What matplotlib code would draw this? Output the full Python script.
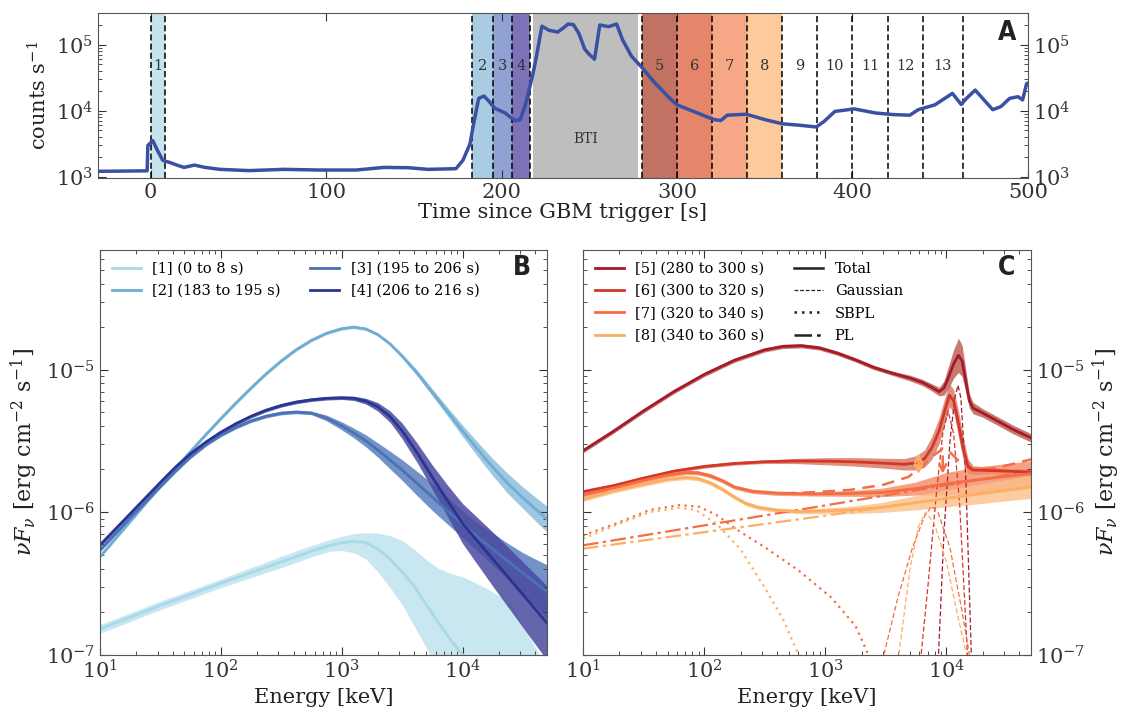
import numpy as np
import matplotlib.pyplot as plt

plt.rcParams['font.family'] = ['DejaVu Serif']
plt.rcParams['mathtext.fontset'] = 'dejavuserif'

# ---- panel A: light curve ----
lc_t = [-30, -2, -1.6, 1.2, 3.9, 6.9, 11, 15, 19, 25, 31, 39.5, 56, 76, 96.5, 117, 133, 147, 158, 174,
        178, 182, 184, 187, 190, 193, 196, 202, 207.6, 210.6, 213.6, 217.7, 219.6, 223, 227, 232, 235,
        238, 241, 244, 247.5, 250, 253, 256, 261, 265.6, 269, 274, 280, 287, 295, 300, 309, 321, 325,
        328.6, 339.5, 350, 360, 369.7, 379.4, 384, 390, 401, 413, 423, 432.7, 437.5, 447, 457, 462,
        465, 470, 475, 480, 484.7, 489.6, 494.4, 497, 499.3, 500]
lc_c = [1200, 1220, 2950, 3500, 2480, 1760, 1630, 1490, 1375, 1490, 1375, 1285, 1230, 1285, 1255, 1255,
        1375, 1360, 1285, 1315, 1760, 3120, 6150, 15300, 16600, 13700, 10900, 9200, 7060, 7250, 12200,
        34000, 60000, 190000, 165000, 155000, 177000, 205000, 200000, 149000, 84500, 71000, 60000,
        198000, 187000, 205000, 118000, 67000, 45000, 27000, 16200, 12200, 9800, 7300, 7060, 8500,
        8800, 7300, 6300, 6000, 5640, 6900, 9700, 10600, 9200, 8700, 8500, 10300, 12200, 18200, 12400,
        15300, 20400, 14500, 10300, 11500, 15300, 16200, 14500, 25600, 26000]

spans = [(0, 8), (183, 195), (195, 206), (206, 216), (218, 278), (280, 300), (300, 320), (320, 340), (340, 360)]
span_colors = ['#c6e4ee', '#a9cce3', '#8fa2d3', '#7b72b7', '#bebebf', '#c27262', '#e5866a', '#f5a786', '#fdcb9b']
dash_t = [0, 8, 183, 195, 206, 216, 280, 300, 320, 340, 360, 380, 400, 420, 440, 463]
int_labels = ['1', '2', '3', '4', '5', '6', '7', '8', '9', '10', '11', '12', '13']
int_label_t = [4, 189, 200.5, 211, 290, 310, 330, 350, 370, 390, 410, 430, 451.5]
int_label_c = 48000
bti_t, bti_c = 248, 3700

# ---- panel B: spectra 1-4 (log10 E [keV], log10 nuFnu) ----
b_names = ['[1] (0 to 8 s)', '[2] (183 to 195 s)', '[3] (195 to 206 s)', '[4] (206 to 216 s)']
b_colors = ['#a9d9e8', '#6eaed5', '#4a72b6', '#2b3590']
b_fill = ['#bfe3ee', '#8dbddc', '#5b7fbd', '#4a4aa0']

b1_logE = [1.0, 1.25, 1.5, 1.75, 2.0, 2.25, 2.5, 2.75, 2.9, 3.0, 3.1, 3.2, 3.3, 3.4, 3.5, 3.6, 3.7, 3.8, 3.9, 4.0, 4.2, 4.4, 4.7]
b1_mid = [-6.82, -6.738, -6.655, -6.578, -6.50, -6.425, -6.35, -6.275, -6.235, -6.215, -6.207, -6.215, -6.26,
          -6.33, -6.42, -6.52, -6.65, -6.775, -6.895, -7.0, -7.25, -7.5, -7.9]
b1_hi = [-6.79, -6.708, -6.625, -6.548, -6.47, -6.39, -6.31, -6.235, -6.195, -6.17, -6.152, -6.145, -6.148,
         -6.165, -6.2, -6.26, -6.335, -6.395, -6.43, -6.454, -6.535, -6.64, -7.1]
b1_lo = [-6.85, -6.768, -6.685, -6.608, -6.53, -6.46, -6.39, -6.315, -6.275, -6.27, -6.285, -6.33, -6.42,
         -6.53, -6.65, -6.8, -6.95, -7.12, -7.3, -7.5, -7.9, -8.3, -8.9]

b_grid = [1.0, 1.125, 1.25, 1.375, 1.5, 1.625, 1.75, 1.875, 2.0, 2.125, 2.25, 2.375, 2.5, 2.625, 2.75, 2.875,
          3.0, 3.1, 3.2, 3.3, 3.4, 3.5, 3.625, 3.75, 3.875, 4.0, 4.125, 4.25, 4.375, 4.5, 4.625, 4.7]
b2_mid = [-6.314, -6.19, -6.066, -5.942, -5.818, -5.695, -5.575, -5.458, -5.345, -5.235, -5.13, -5.03, -4.94,
          -4.86, -4.795, -4.745, -4.713, -4.702, -4.715, -4.755, -4.82, -4.905, -5.025, -5.16, -5.295, -5.43,
          -5.56, -5.685, -5.8, -5.9, -5.995, -6.05]
b2_err = [0.01] * 21 + [0.015, 0.02, 0.025, 0.03, 0.04, 0.05, 0.06, 0.07, 0.075, 0.085, 0.09]
b3_mid = [-6.267, -6.155, -6.043, -5.932, -5.82, -5.712, -5.612, -5.528, -5.46, -5.405, -5.36, -5.327, -5.306,
          -5.298, -5.305, -5.34, -5.395, -5.445, -5.5, -5.565, -5.635, -5.705, -5.8, -5.895, -5.99, -6.085,
          -6.175, -6.26, -6.345, -6.43, -6.51, -6.56]
b3_err = [0.012] * 15 + [0.02, 0.028, 0.034, 0.042, 0.05, 0.062, 0.072, 0.085, 0.094, 0.094, 0.095, 0.1,
                         0.112, 0.125, 0.145, 0.17, 0.19]
b4_mid = [-6.232, -6.122, -6.012, -5.902, -5.792, -5.685, -5.59, -5.51, -5.44, -5.38, -5.328, -5.285, -5.252,
          -5.228, -5.212, -5.202, -5.198, -5.202, -5.222, -5.262, -5.33, -5.43, -5.585, -5.755, -5.92, -6.08,
          -6.205, -6.33, -6.455, -6.58, -6.705, -6.78]
b4_err = [0.012] * 17 + [0.015, 0.02, 0.03, 0.04, 0.055, 0.068, 0.085, 0.11, 0.14, 0.165, 0.19, 0.21, 0.23,
                         0.25, 0.26]

# ---- panel C: spectra 5-8 ----
c_names = ['[5] (280 to 300 s)', '[6] (300 to 320 s)', '[7] (320 to 340 s)', '[8] (340 to 360 s)']
c_colors = ['#a51b2a', '#d3372a', '#f46d43', '#fdae61']
c_fill = ['#b9584f', '#d9735c', '#f48a66', '#fcc08a']

c5_logE = [1.0, 1.25, 1.5, 1.75, 2.0, 2.25, 2.5, 2.65, 2.8, 2.95, 3.1, 3.25, 3.4, 3.55, 3.7, 3.8, 3.88, 3.94,
           3.98, 4.02, 4.06, 4.1, 4.13, 4.16, 4.19, 4.22, 4.3, 4.42, 4.55, 4.7]
c5_mid = [-5.57, -5.434, -5.29, -5.155, -5.035, -4.935, -4.862, -4.838, -4.833, -4.848, -4.885, -4.932, -4.985,
          -5.025, -5.06, -5.09, -5.125, -5.155, -5.13, -5.05, -4.96, -4.9, -4.94, -5.08, -5.22, -5.27, -5.305,
          -5.36, -5.42, -5.48]
c5_err = [0.015] * 14 + [0.02, 0.022, 0.025, 0.03, 0.05, 0.08, 0.1, 0.12, 0.11, 0.08, 0.05, 0.04, 0.03, 0.03,
                         0.03, 0.03]

c6_logE = [1.0, 1.25, 1.5, 1.75, 2.0, 2.25, 2.5, 2.75, 3.0, 3.25, 3.5, 3.65, 3.75, 3.82, 3.88, 3.94, 3.99,
           4.026, 4.06, 4.1, 4.14, 4.18, 4.22, 4.42, 4.7]
c6_mid = [-5.857, -5.815, -5.762, -5.713, -5.68, -5.659, -5.647, -5.642, -5.643, -5.648, -5.658, -5.665, -5.655,
          -5.625, -5.55, -5.43, -5.28, -5.18, -5.22, -5.38, -5.56, -5.68, -5.705, -5.71, -5.72]
c6_err = [0.012] * 7 + [0.018, 0.025, 0.03, 0.035, 0.04, 0.05, 0.06, 0.08, 0.09, 0.09, 0.08, 0.08, 0.09, 0.08,
                        0.05, 0.03, 0.02, 0.02]

c7_logE = [1.0, 1.25, 1.5, 1.7, 1.85, 1.95, 2.05, 2.15, 2.25, 2.4, 2.6, 2.9, 3.2, 3.473, 3.74, 4.01, 4.29, 4.7]
c7_mid = [-5.88, -5.832, -5.778, -5.74, -5.722, -5.725, -5.745, -5.78, -5.825, -5.855, -5.868, -5.873, -5.87,
          -5.862, -5.836, -5.80, -5.77, -5.73]
c7_err = [0.015] * 12 + [0.02, 0.03, 0.045, 0.08, 0.09, 0.09]

c8_logE = [1.0, 1.25, 1.5, 1.7, 1.85, 1.95, 2.05, 2.15, 2.25, 2.35, 2.45, 2.6, 2.8, 3.2, 3.473, 3.74, 4.29, 4.7]
c8_mid = [-5.911, -5.852, -5.805, -5.77, -5.757, -5.765, -5.795, -5.84, -5.895, -5.942, -5.968, -5.987, -5.997,
          -5.986, -5.967, -5.935, -5.87, -5.824]
c8_err = [0.015] * 13 + [0.025, 0.035, 0.05, 0.07, 0.08]

# Gaussian components (thin dashed)
g_logE = [
    [3.93, 3.98, 4.03, 4.07, 4.096, 4.12, 4.16, 4.21],
    [3.78, 3.85, 3.92, 3.97, 4.014, 4.06, 4.11, 4.18],
    [3.47, 3.6, 3.72, 3.82, 3.877, 3.93, 4.03, 4.13, 4.2],
    [3.6, 3.7, 3.77, 3.83, 3.9, 4.0, 4.1, 4.18],
]
g_val = [
    [-7.1, -6.15, -5.5, -5.2, -5.11, -5.2, -5.75, -7.1],
    [-7.1, -6.5, -5.85, -5.45, -5.29, -5.45, -5.95, -7.1],
    [-7.05, -6.6, -6.25, -6.03, -5.96, -6.0, -6.25, -6.7, -7.05],
    [-7.05, -6.4, -6.1, -6.0, -6.08, -6.35, -6.75, -7.05],
]
# SBPL (dotted) and PL (dash-dot) for intervals 7 and 8
sbpl_logE = [[1.0, 1.275, 1.549, 1.797, 1.96, 2.1, 2.3, 2.5, 2.78, 3.05, 3.25, 3.356, 3.45],
             [1.0, 1.275, 1.549, 1.79, 1.93, 2.1, 2.3, 2.5, 2.65, 2.78, 2.85]]
sbpl_val = [[-6.164, -6.08, -5.986, -5.951, -5.963, -6.02, -6.14, -6.246, -6.41, -6.6, -6.8, -7.0, -7.2],
            [-6.187, -6.09, -6.0, -5.97, -5.985, -6.08, -6.26, -6.53, -6.75, -7.0, -7.2]]
pl_logE = [1.0, 2.92, 4.7]
pl_val = [[-6.234, -5.965, -5.712], [-6.257, -6.035, -5.818]]
# interval 7 total with line (thick dashed)
tot7_logE = [2.648, 2.923, 3.2, 3.473, 3.685, 3.8, 3.877, 3.97, 4.03, 4.096, 4.205, 4.42, 4.7]
tot7_val = [-5.869, -5.86, -5.845, -5.81, -5.754, -5.68, -5.614, -5.555, -5.58, -5.637, -5.707, -5.69, -5.63]
# upper-limit arrows: (log E, log top, log bottom)
arrows = [(3.77, -5.567, -5.754, '#fdae61', '<->'), (3.97, -5.59, -5.75, '#f46d43', '->')]

fig = plt.figure(figsize=(11.32, 7.08), dpi=100)
axA = fig.add_axes([0.0866, 0.749, 0.8214, 0.2325])
axB = fig.add_axes([0.0883, 0.0755, 0.3949, 0.5714])
axC = fig.add_axes([0.515, 0.0755, 0.3958, 0.5714])

for ax in (axA, axB, axC):
    ax.tick_params(which='both', direction='in', top=True, right=True, colors='#333333', labelsize=15)
    ax.tick_params(which='major', length=6)
    ax.tick_params(which='minor', length=3)
    for s in ax.spines.values():
        s.set_color('#555555')

# panel A
for (a, b), col in zip(spans, span_colors):
    axA.axvspan(a, b, color=col, lw=0)
for t in dash_t:
    axA.axvline(t, color='k', ls=(0, (4, 2)), lw=1.1)
axA.plot(lc_t, lc_c, color='#3a50a3', lw=2.5)
for lab, t in zip(int_labels, int_label_t):
    axA.text(t, int_label_c, lab, ha='center', va='center', fontsize=10.5, color='#333333')
axA.text(bti_t, bti_c, 'BTI', ha='center', va='center', fontsize=10, color='#333333')
axA.set_yscale('log')
axA.set_xlim(-30, 500)
axA.set_ylim(960, 3e5)
axA.tick_params(labelright=True)
axA.set_ylabel('counts s$^{-1}$', fontsize=15, color='#222222')
axA.set_xlabel('Time since GBM trigger [s]', fontsize=15, color='#222222', labelpad=1)
axA.text(0.987, 0.88, 'A', transform=axA.transAxes, ha='right', va='center', fontsize=19,
         fontweight='bold', family='DejaVu Sans', stretch='condensed', color='#222222')

# panel B
bands_b = [
    (b1_logE, b1_mid, b1_hi, b1_lo),
    (b_grid, b2_mid, list(np.add(b2_mid, b2_err)), list(np.subtract(b2_mid, b2_err))),
    (b_grid, b3_mid, list(np.add(b3_mid, b3_err)), list(np.subtract(b3_mid, b3_err))),
    (b_grid, b4_mid, list(np.add(b4_mid, b4_err)), list(np.subtract(b4_mid, b4_err))),
]
for i, (lE, mid, hi, lo) in enumerate(bands_b):
    E = 10 ** np.array(lE)
    axB.fill_between(E, 10 ** np.array(lo), 10 ** np.array(hi), color=b_fill[i], alpha=0.85, lw=0)
for i, (lE, mid, hi, lo) in enumerate(bands_b):
    axB.plot(10 ** np.array(lE), 10 ** np.array(mid), color=b_colors[i], lw=2, label=b_names[i])
axB.set_xscale('log')
axB.set_yscale('log')
axB.set_xlim(10, 5e4)
axB.set_ylim(1e-7, 6.9e-5)
axB.set_xlabel('Energy [keV]', fontsize=15, color='#222222')
axB.set_ylabel(r'$\nu F_\nu$ [erg cm$^{-2}$ s$^{-1}$]', fontsize=16, color='#222222')
axB.legend(loc='upper left', ncol=2, frameon=False, fontsize=10.5, handlelength=2.0,
           columnspacing=2.0, borderaxespad=0.4, labelspacing=0.58)
axB.text(0.965, 0.955, 'B', transform=axB.transAxes, ha='right', va='center', fontsize=19,
         fontweight='bold', family='DejaVu Sans', stretch='condensed', color='#222222')

# panel C
spec_c = [(c5_logE, c5_mid, c5_err), (c6_logE, c6_mid, c6_err), (c7_logE, c7_mid, c7_err), (c8_logE, c8_mid, c8_err)]
for i, (lE, m, e) in enumerate(spec_c):
    E = 10 ** np.array(lE)
    m = np.array(m)
    e = np.array(e)
    axC.fill_between(E, 10 ** (m - e), 10 ** (m + e), color=c_fill[i], alpha=0.8, lw=0)
for i in range(4):
    axC.plot(10 ** np.array(g_logE[i]), 10 ** np.array(g_val[i]), color=c_colors[i], lw=0.9, ls=(0, (4, 2)))
for i in range(2):
    axC.plot(10 ** np.array(sbpl_logE[i]), 10 ** np.array(sbpl_val[i]), color=c_colors[i + 2], lw=1.6, ls=(0, (1, 2)))
    axC.plot(10 ** np.array(pl_logE), 10 ** np.array(pl_val[i]), color=c_colors[i + 2], lw=1.6, ls=(0, (7, 2, 1.5, 2)))
axC.plot(10 ** np.array(tot7_logE), 10 ** np.array(tot7_val), color=c_colors[2], lw=1.8, ls=(0, (5, 3)))
for i, (lE, m, e) in enumerate(spec_c):
    axC.plot(10 ** np.array(lE), 10 ** np.array(m), color=c_colors[i], lw=2, label=c_names[i])
for lx, ytop, ybot, col, style in arrows:
    axC.annotate('', xy=(10 ** lx, 10 ** ybot), xytext=(10 ** lx, 10 ** ytop),
                 arrowprops=dict(arrowstyle=style, color=col, lw=1.8, mutation_scale=12))
for lab, ls in [('Total', '-'), ('Gaussian', (0, (3, 1.5))), ('SBPL', (0, (1, 2))), ('PL', (0, (7, 2, 1.5, 2)))]:
    lw = 0.9 if lab == 'Gaussian' else 1.8
    axC.plot([], [], color='#222222', ls=ls, lw=lw, label=lab)
axC.set_xscale('log')
axC.set_yscale('log')
axC.set_xlim(10, 5e4)
axC.set_ylim(1e-7, 6.9e-5)
axC.tick_params(labelleft=False, labelright=True)
axC.yaxis.set_label_position('right')
axC.set_xlabel('Energy [keV]', fontsize=15, color='#222222')
axC.set_ylabel(r'$\nu F_\nu$ [erg cm$^{-2}$ s$^{-1}$]', fontsize=16, color='#222222')
axC.legend(loc='upper left', ncol=2, frameon=False, fontsize=10.5, handlelength=2.0,
           columnspacing=2.0, borderaxespad=0.4, labelspacing=0.58)
axC.text(0.965, 0.955, 'C', transform=axC.transAxes, ha='right', va='center', fontsize=19,
         fontweight='bold', family='DejaVu Sans', stretch='condensed', color='#222222')

fig.savefig('out.png', dpi=100)
